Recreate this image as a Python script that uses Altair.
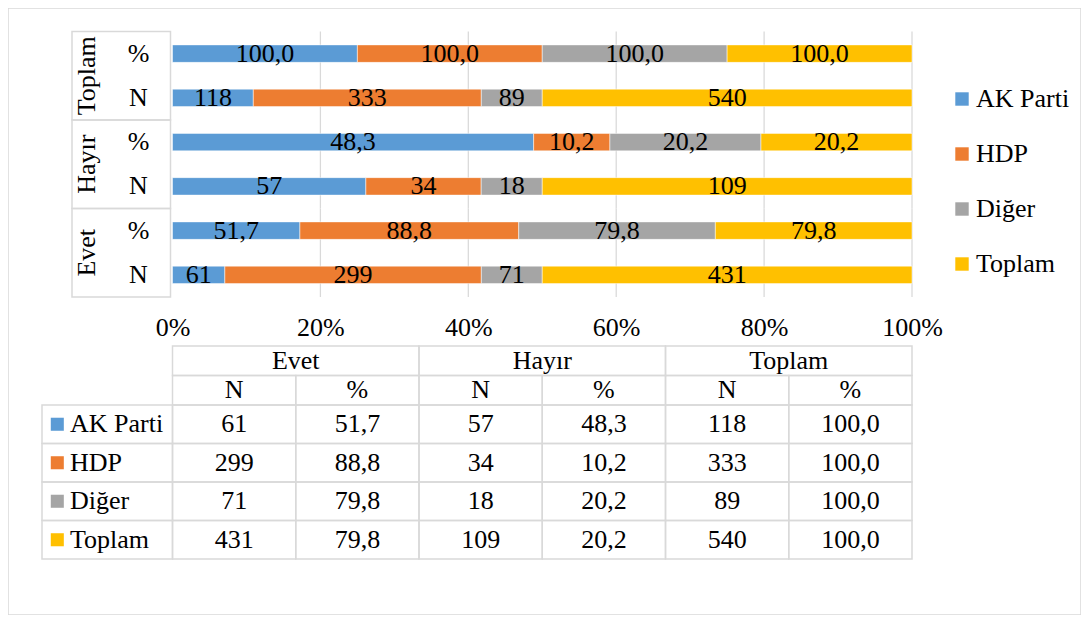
import altair as alt
import pandas as pd

# ---------------- data ----------------
series = ["AK Parti", "HDP", "Diğer", "Toplam"]
series_colors = ["#5B9BD5", "#ED7D31", "#A5A5A5", "#FFC000"]
answer_groups = ["Evet", "Hayır", "Toplam"]      # table column order
measures = ["N", "%"]
evet_n = [61, 299, 71, 431]
evet_pct = [51.7, 88.8, 79.8, 79.8]
hayir_n = [57, 34, 18, 109]
hayir_pct = [48.3, 10.2, 20.2, 20.2]
toplam_n = [118, 333, 89, 540]
toplam_pct = [100.0, 100.0, 100.0, 100.0]
x_tick_values = [0, 0.2, 0.4, 0.6, 0.8, 1.0]
grid_values = [0.2, 0.4, 0.6, 0.8, 1.0]

values = {
    ("Evet", "N"): evet_n, ("Evet", "%"): evet_pct,
    ("Hayır", "N"): hayir_n, ("Hayır", "%"): hayir_pct,
    ("Toplam", "N"): toplam_n, ("Toplam", "%"): toplam_pct,
}


def fmt(v, m):
    return str(int(v)) if m == "N" else f"{v:.1f}".replace(".", ",")


groups_top = ["Toplam", "Hayır", "Evet"]           # chart order, top to bottom
row_order = [f"{g} {m}" for g in groups_top for m in ["%", "N"]]

bar_rows = []
for g in groups_top:
    for m in ["%", "N"]:
        for i, s in enumerate(series):
            v = values[(g, m)][i]
            bar_rows.append(dict(row=f"{g} {m}", group=g, measure=m, series=s,
                                 order=i, value=v, label=fmt(v, m)))
bar_df = pd.DataFrame(bar_rows)
rowlab_df = pd.DataFrame([dict(row=f"{g} {m}", measure=m) for g in groups_top for m in ["%", "N"]])
group_df = pd.DataFrame({"group": groups_top})
grid_df = pd.DataFrame([dict(tick=t, group=g) for t in grid_values for g in groups_top])

head1_df = pd.DataFrame([dict(hrow="h1", gidx=i, text=g) for i, g in enumerate(answer_groups)])
head2_df = pd.DataFrame([dict(hrow="h2", col=gi * 2 + mi, text=m)
                         for gi, g in enumerate(answer_groups) for mi, m in enumerate(measures)])
body_rows = []
for si, s in enumerate(series):
    for gi, g in enumerate(answer_groups):
        for mi, m in enumerate(measures):
            body_rows.append(dict(series=s, col=gi * 2 + mi, text=fmt(values[(g, m)][si], m)))
body_df = pd.DataFrame(body_rows)
rowhead_df = pd.DataFrame({"series": series})

# ---------------- layout / style ----------------
W, H = 1073, 607
PX0, PX1 = 164.5, 904.0           # pixel positions of 0% and 100%


def px(p):
    return (p - PX0) / (PX1 - PX0)


FONT = "Liberation Serif, Times New Roman, serif"
FS = 26
LINE = "#d9d9d9"
BAR_Y = [23.5, 289]
HEAD_Y = [338, 397]
BODY_Y = [397, 551]

xs = alt.Scale(domain=[px(0), px(W)], nice=False, zero=False)
xax = alt.Axis(values=x_tick_values, format=".0%", grid=False, domain=False, ticks=False,
               tickSize=0, labelFont=FONT, labelFontSize=FS, labelColor="black",
               labelPadding=0, labelBaseline="middle", labelFlush=False,
               offset=319 - H, title=None)


def X(field):
    return alt.X(field, scale=xs, axis=xax)


ybar = alt.Y("row:N", scale=alt.Scale(domain=row_order, range=BAR_Y,
                                      paddingInner=0.605, paddingOuter=0.3025), axis=None)
ygroup = alt.Y("group:N", scale=alt.Scale(domain=groups_top, range=BAR_Y,
                                          paddingInner=0, paddingOuter=0), axis=None)
yhead = alt.Y("hrow:N", scale=alt.Scale(domain=["h1", "h2"], range=HEAD_Y,
                                        paddingInner=0, paddingOuter=0), axis=None)
ybody = alt.Y("series:N", scale=alt.Scale(domain=series, range=BODY_Y,
                                          paddingInner=0, paddingOuter=0), axis=None)

legend = alt.Legend(orient="none", legendX=941, legendY=78, title=None,
                    labelFont=FONT, labelFontSize=FS, labelColor="black",
                    symbolType="square", symbolSize=180, symbolStrokeWidth=0,
                    rowPadding=29, labelOffset=1, padding=0)
colorenc = alt.Color("series:N", sort=series,
                     scale=alt.Scale(domain=series, range=series_colors), legend=legend)

# ---------------- bar chart ----------------
grid = alt.Chart(grid_df).mark_rect(fillOpacity=0, stroke=LINE, strokeWidth=1.25).encode(
    x=X("tick:Q"), x2="tick:Q", y=ygroup)

boxes = alt.Chart(group_df).transform_calculate(
    x0=str(px(64)), x1=str(px(162.5))
).mark_rect(fillOpacity=0, stroke=LINE, strokeWidth=1.5).encode(
    x=X("x0:Q"), x2="x1:Q", y=ygroup)

group_text = alt.Chart(group_df).transform_calculate(xm=str(px(79))).mark_text(
    font=FONT, fontSize=FS, color="black", angle=270).encode(
    x=X("xm:Q"), y=ygroup, text="group:N")

rowlab = alt.Chart(rowlab_df).transform_calculate(xm=str(px(130.5))).mark_text(
    font=FONT, fontSize=FS, color="black").encode(
    x=X("xm:Q"), y=ybar, text="measure:N")

base_bar = alt.Chart(bar_df).transform_stack(
    stack="value", groupby=["row"], as_=["v0", "v1"], offset="normalize",
    sort=[alt.SortField("order", order="ascending")]
).transform_calculate(mid="(datum.v0 + datum.v1) / 2")

bars = base_bar.mark_bar(stroke="white", strokeWidth=0.5).encode(
    x=X("v0:Q"), x2="v1:Q", y=ybar, color=colorenc)

bar_text = base_bar.mark_text(font=FONT, fontSize=FS, color="black").encode(
    x=X("mid:Q"), y=ybar, text="label:N")

# ---------------- data table ----------------
head1_base = alt.Chart(head1_df).transform_calculate(
    x0="datum.gidx / 3", x1="(datum.gidx + 1) / 3", xm="(datum.gidx + 0.5) / 3")
head1_rect = head1_base.mark_rect(fillOpacity=0, stroke=LINE, strokeWidth=1.5).encode(
    x=X("x0:Q"), x2="x1:Q", y=yhead)
head1_text = head1_base.mark_text(font=FONT, fontSize=FS, color="black").encode(
    x=X("xm:Q"), y=yhead, text="text:N")

head2_base = alt.Chart(head2_df).transform_calculate(
    x0="datum.col / 6", x1="(datum.col + 1) / 6", xm="(datum.col + 0.5) / 6")
head2_rect = head2_base.mark_rect(fillOpacity=0, stroke=LINE, strokeWidth=1.5).encode(
    x=X("x0:Q"), x2="x1:Q", y=yhead)
head2_text = head2_base.mark_text(font=FONT, fontSize=FS, color="black").encode(
    x=X("xm:Q"), y=yhead, text="text:N")

body_base = alt.Chart(body_df).transform_calculate(
    x0="datum.col / 6", x1="(datum.col + 1) / 6", xm="(datum.col + 0.5) / 6")
body_rect = body_base.mark_rect(fillOpacity=0, stroke=LINE, strokeWidth=1.5).encode(
    x=X("x0:Q"), x2="x1:Q", y=ybody)
body_text = body_base.mark_text(font=FONT, fontSize=FS, color="black").encode(
    x=X("xm:Q"), y=ybody, text="text:N")

rowhead_base = alt.Chart(rowhead_df).transform_calculate(
    x0=str(px(34)), x1="0", xs=str(px(49.3)), xt=str(px(62)))
rowhead_rect = rowhead_base.mark_rect(fillOpacity=0, stroke=LINE, strokeWidth=1.5).encode(
    x=X("x0:Q"), x2="x1:Q", y=ybody)
rowhead_sq = rowhead_base.mark_square(size=170, opacity=1).encode(
    x=X("xs:Q"), y=ybody, color=colorenc)
rowhead_text = rowhead_base.mark_text(font=FONT, fontSize=FS, color="black", align="left").encode(
    x=X("xt:Q"), y=ybody, text="series:N")

chart = alt.layer(
    grid, boxes, group_text, rowlab, bars, bar_text,
    head1_rect, head1_text, head2_rect, head2_text,
    body_rect, body_text, rowhead_rect, rowhead_sq, rowhead_text,
).resolve_scale(y="independent").properties(
    width=W, height=H, autosize=alt.AutoSizeParams(type="none"), padding=0,
    background="white",
).configure(font=FONT).configure_view(stroke=LINE, strokeWidth=1.5)

chart.save("out.html", embed_options={"renderer": "svg", "actions": False})
